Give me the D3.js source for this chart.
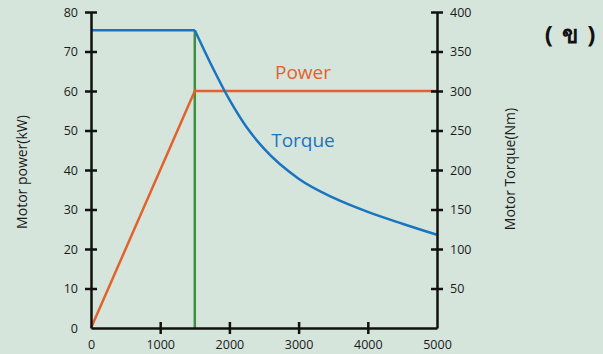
<!DOCTYPE html>
<html>
<head>
<meta charset="utf-8">
<script src="https://cdn.jsdelivr.net/npm/d3@7"></script>
<style>
  body { margin: 0; background: #d6e5dc; }
  text { font-family: "Open Sans", "Noto Sans", sans-serif; }
</style>
</head>
<body>
<div id="chart"></div>
<script>
// speed in rpm
const speedTicks = [0, 1000, 2000, 3000, 4000, 5000];
const powerTicks = [0, 10, 20, 30, 40, 50, 60, 70, 80];
const torqueTicks = [50, 100, 150, 200, 250, 300, 350, 400];

// power curve (kW)
const powerSpeed = [0, 1500, 5000];
const powerValues = [0, 60, 60];

// torque curve (Nm)
const torqueSpeed = [0, 1500, 1750, 2000, 2250, 2500, 3000, 3500, 4000, 4500, 5000];
const torqueValues = [377, 377, 331, 289, 254, 227, 189, 165, 147, 132, 118];

// base speed marker
const baseSpeed = 1500;

const W = 603, H = 354;
const svg = d3.select('#chart').append('svg')
  .attr('width', W).attr('height', H);

const x = d3.scaleLinear().domain([0, 5000]).range([91, 437]);
const yL = d3.scaleLinear().domain([0, 80]).range([328, 12]);
const yR = d3.scaleLinear().domain([0, 400]).range([328, 12]);

const ink = '#111';
const blue = '#1b74bf';
const orange = '#e2622c';
const green = '#3e8f44';

// green base speed line
svg.append('line')
  .attr('x1', x(baseSpeed)).attr('x2', x(baseSpeed))
  .attr('y1', yR(0)).attr('y2', yR(torqueValues[1]))
  .attr('stroke', green).attr('stroke-width', 2.5);

// power line
const powerData = powerSpeed.map((s, i) => [s, powerValues[i]]);
svg.append('path')
  .datum(powerData)
  .attr('fill', 'none')
  .attr('stroke', orange)
  .attr('stroke-width', 2.5)
  .attr('d', d3.line().x(d => x(d[0])).y(d => yL(d[1])));

// torque line: flat part, then the falling curve
const torqueData = torqueSpeed.map((s, i) => [s, torqueValues[i]]);
const split = torqueSpeed.indexOf(baseSpeed);
const torqueLine = d3.line().x(d => x(d[0])).y(d => yR(d[1]));
svg.append('path')
  .datum(torqueData.slice(0, split + 1))
  .attr('fill', 'none')
  .attr('stroke', blue)
  .attr('stroke-width', 2.5)
  .attr('d', torqueLine);
svg.append('path')
  .datum(torqueData.slice(split))
  .attr('fill', 'none')
  .attr('stroke', blue)
  .attr('stroke-width', 2.5)
  .attr('d', torqueLine.curve(d3.curveMonotoneX));

// axes
function styleAxis(g) {
  g.select('.domain').attr('stroke', ink).attr('stroke-width', 2.5);
  g.selectAll('.tick line').attr('stroke', ink).attr('stroke-width', 2.5);
  g.selectAll('.tick text').attr('fill', '#1a1a1a')
    .style('font-size', '12.5px');
}

const gx = svg.append('g')
  .attr('transform', `translate(0,${yL(0)})`)
  .call(d3.axisBottom(x).tickValues(speedTicks).tickFormat(d3.format('d'))
    .tickSize(6).tickSizeOuter(0).tickPadding(6));
styleAxis(gx);
gx.selectAll('.tick line').attr('y1', -6).attr('y2', 6)
  .attr('display', d => (d === 0 || d === 5000) ? 'none' : null);

const gl = svg.append('g')
  .attr('transform', `translate(${x(0)},0)`)
  .call(d3.axisLeft(yL).tickValues(powerTicks).tickSize(6).tickSizeOuter(0).tickPadding(7));
styleAxis(gl);
gl.selectAll('.tick line').attr('x1', -6).attr('x2', 6)
  .attr('display', d => d === 0 ? 'none' : null);

const gr = svg.append('g')
  .attr('transform', `translate(${x(5000)},0)`)
  .call(d3.axisRight(yR).tickValues(torqueTicks).tickSize(6).tickSizeOuter(0).tickPadding(7));
styleAxis(gr);
gr.selectAll('.tick line').attr('x1', -6).attr('x2', 6);

// axis titles
svg.append('text')
  .attr('transform', `translate(27,${yL(40) + 2})rotate(-90)`)
  .attr('text-anchor', 'middle')
  .style('font-size', '14px')
  .attr('fill', '#1a1a1a')
  .text('Motor power(kW)');

svg.append('text')
  .attr('transform', `translate(515,${yR(200) - 1})rotate(-90)`)
  .attr('text-anchor', 'middle')
  .style('font-size', '14px')
  .attr('fill', '#1a1a1a')
  .text('Motor Torque(Nm)');

// series labels
svg.append('text')
  .attr('x', 303).attr('y', 79)
  .attr('text-anchor', 'middle')
  .attr('fill', orange)
  .style('font-size', '19px')
  .text('Power');

svg.append('text')
  .attr('x', 303).attr('y', 147)
  .attr('text-anchor', 'middle')
  .attr('fill', blue)
  .style('font-size', '19px')
  .text('Torque');

// panel label
svg.append('text')
  .attr('x', 570).attr('y', 43)
  .attr('text-anchor', 'middle')
  .attr('fill', '#111')
  .style('font-size', '24px')
  .style('font-weight', 'bold')
  .style('word-spacing', '3px')
  .text('( ข )');
</script>
</body>
</html>
